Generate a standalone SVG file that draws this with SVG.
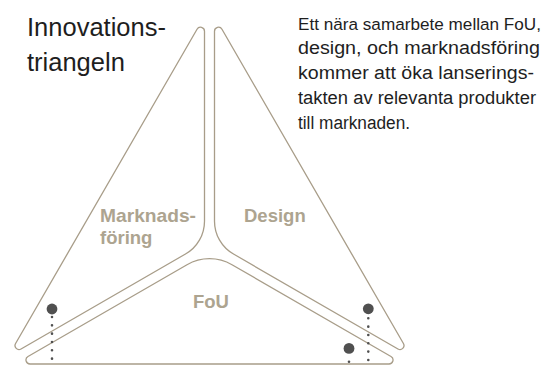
<svg xmlns="http://www.w3.org/2000/svg" width="549" height="365" viewBox="0 0 549 365">
  <style>
    .shape { fill: none; stroke: #a89d89; stroke-width: 1.3; stroke-linejoin: round; }
    .label { font-family: "Liberation Sans", Arial, sans-serif; font-weight: bold; font-size: 18.5px; fill: #ada490; }
    .title { font-family: "Liberation Sans", Arial, sans-serif; font-size: 25.5px; fill: #1e1e1e; }
    .para { font-family: "Liberation Sans", Arial, sans-serif; font-size: 18px; fill: #1e1e1e; }
    .pin { fill: #505050; }
    .trail { stroke: #505050; stroke-width: 2.6; stroke-linecap: round; stroke-dasharray: 0 8.33; fill: none; }
  </style>

  <g id="title">
    <text class="title" x="27" y="36">Innovations-</text>
    <text class="title" x="27" y="71">triangeln</text>
  </g>

  <g id="description">
    <text class="para" x="298" y="29.5" style="font-size:17.2px" textLength="243" lengthAdjust="spacingAndGlyphs">Ett nära samarbete mellan FoU,</text>
    <text class="para" x="298" y="54.25" textLength="242" lengthAdjust="spacingAndGlyphs">design, och marknadsföring</text>
    <text class="para" x="298" y="79" textLength="236" lengthAdjust="spacingAndGlyphs">kommer att öka lanserings-</text>
    <text class="para" x="298" y="103.75" textLength="238" lengthAdjust="spacingAndGlyphs">takten av relevanta produkter</text>
    <text class="para" x="298" y="128.5" textLength="112" lengthAdjust="spacingAndGlyphs">till marknaden.</text>
  </g>

  <g id="node-marknadsforing">
    <path class="shape" d="M204.5,31.23 L204.5,221.14 A38,38 0 0 1 185.5,254.05 L21.04,348.99 A4,4 0 0 1 15.58,343.53 L197.03,29.23 A4,4 0 0 1 204.5,31.23 Z"/>
    <text class="label" x="100" y="222" textLength="96" lengthAdjust="spacingAndGlyphs">Marknads-</text>
    <text class="label" x="100" y="243.5">föring</text>
  </g>

  <g id="node-design">
    <path class="shape" d="M214.5,31.23 L214.5,221.14 A38,38 0 0 0 233.5,254.05 L397.96,348.99 A4,4 0 0 0 403.42,343.53 L221.97,29.23 A4,4 0 0 0 214.5,31.23 Z"/>
    <text class="label" x="244" y="222">Design</text>
  </g>

  <g id="node-fou">
    <path class="shape" d="M232,264.73 L391,356.53 A4,4 0 0 1 389,364 L30,364 A4,4 0 0 1 28,356.53 L187,264.73 A45,45 0 0 1 232,264.73 Z"/>
    <text class="label" x="193" y="308">FoU</text>
  </g>

  <g id="connectors">
    <circle class="pin" cx="52" cy="309" r="5.4"/>
    <line class="trail" x1="52" y1="317" x2="52" y2="365"/>
    <circle class="pin" cx="368.3" cy="308.8" r="5.4"/>
    <line class="trail" x1="368.3" y1="318.3" x2="368.3" y2="365"/>
    <circle class="pin" cx="349" cy="348.4" r="5.4"/>
    <line class="trail" x1="349" y1="361.7" x2="349" y2="365"/>
  </g>
</svg>
